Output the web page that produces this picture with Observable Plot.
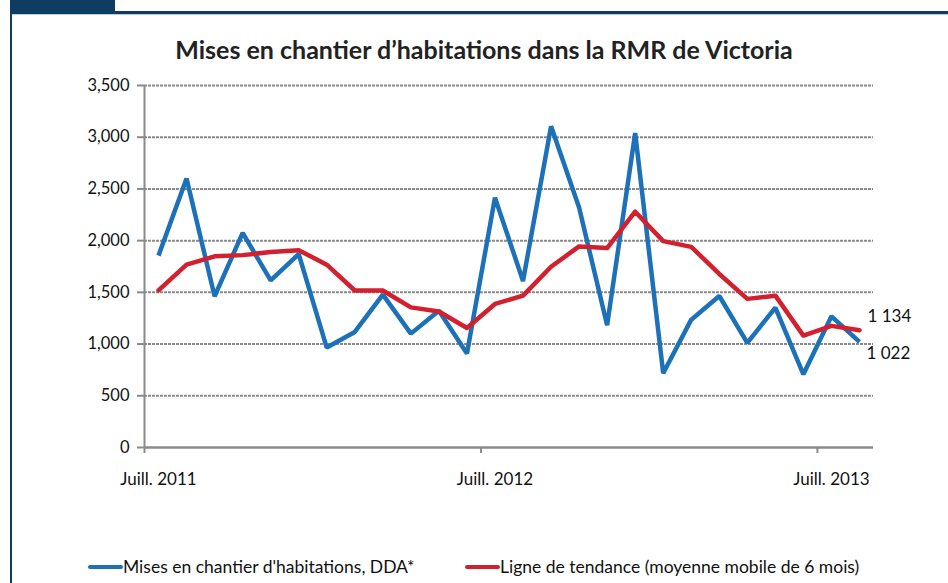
<!DOCTYPE html>
<html>
<head>
<meta charset="utf-8">
<script src="https://cdn.jsdelivr.net/npm/d3@7"></script>
<script src="https://cdn.jsdelivr.net/npm/@observablehq/plot@0.6"></script>
<style>
  html, body { margin: 0; padding: 0; background: #fff; }
  body { width: 948px; height: 583px; overflow: hidden; font-family: Lato, "Open Sans", sans-serif; }
  #wrap { position: relative; width: 948px; height: 583px; }
  #tab { position: absolute; left: 10px; top: 0; width: 105px; height: 12px; background: #0f3d62; }
  #topline { position: absolute; left: 10px; top: 11px; width: 938px; height: 3px; background: #0f3d62; border-bottom: 1px solid #b8cfe0; }
  #leftline { position: absolute; left: 10px; top: 0; width: 2px; height: 583px; background: #0f3d62; }
  #title { position: absolute; top: 34px; left: 0; width: 968px; text-align: center; font-weight: 700; font-size: 25px; color: #222; }
  #chart { position: absolute; left: 0; top: 0; }
  #legend { position: absolute; top: 556px; left: 0; width: 948px; font-size: 17.5px; color: #111; }
  .item { position: absolute; display: flex; align-items: center; white-space: nowrap; }
  .sw { display: inline-block; width: 35px; height: 4px; border-radius: 2px; margin-right: 0px; }
</style>
</head>
<body>
<div id="wrap">
  <div id="tab"></div>
  <div id="topline"></div>
  <div id="leftline"></div>
  <div id="title">Mises en chantier d’habitations dans la RMR de Victoria</div>
  <div id="chart"></div>
  <div id="legend"></div>
</div>
<script>
// ---- Data ----
const mois = ["2011-07","2011-08","2011-09","2011-10","2011-11","2011-12",
  "2012-01","2012-02","2012-03","2012-04","2012-05","2012-06",
  "2012-07","2012-08","2012-09","2012-10","2012-11","2012-12",
  "2013-01","2013-02","2013-03","2013-04","2013-05","2013-06",
  "2013-07","2013-08"];
const misesEnChantier = [1855, 2600, 1462, 2075, 1616, 1870, 966, 1117, 1478, 1101, 1322, 908,
  2415, 1610, 3105, 2320, 1182, 3040, 718, 1236, 1465, 1011, 1352, 708, 1268, 1022];
const tendance = [1520, 1768, 1848, 1860, 1890, 1908, 1768, 1518, 1518, 1355, 1315, 1155,
  1388, 1468, 1748, 1944, 1928, 2280, 1995, 1940, 1678, 1437, 1468, 1082, 1176, 1134];
const etiquettesX = ["Juill. 2011", "Juill. 2012", "Juill. 2013"];
const positionsEtiquettes = [0, 12, 24];
const ticksY = [0, 500, 1000, 1500, 2000, 2500, 3000, 3500];
const series = ["Mises en chantier d'habitations, DDA*", "Ligne de tendance (moyenne mobile de 6 mois)"];
const couleurs = ["#1c71b8", "#d2202f"];

// ---- Build ----
const rows = mois.map((m, i) => ({i, m, a: misesEnChantier[i], t: tendance[i]}));
const n = mois.length;
const bornes = positionsEtiquettes.map(p => p - 0.5);
const last = rows[n - 1];
const frFmt = d3.formatLocale({decimal: ",", thousands: "\u00a0", grouping: [3]}).format(",");
const gris = "#8a8a8a";

const plot = Plot.plot({
  width: 948,
  height: 500,
  marginLeft: 144,
  marginRight: 75,
  marginTop: 85,
  marginBottom: 53,
  style: {fontFamily: "Lato, 'Open Sans', sans-serif", fontSize: "16px", color: "#111", background: "transparent", overflow: "visible"},
  x: {domain: [-0.5, n - 0.5], axis: null},
  y: {domain: [0, 3500], axis: null},
  marks: [
    Plot.gridY(ticksY.filter(d => d > 0), {stroke: gris, strokeOpacity: 1, strokeWidth: 2, strokeDasharray: "3,1"}),
    Plot.axisY({ticks: ticksY, tickSize: 7, tickPadding: 8, tickFormat: d3.format(","), stroke: gris, strokeWidth: 2, fontSize: 16.5, label: null}),
    Plot.ruleX([-0.5], {y1: 0, y2: 3500, stroke: gris, strokeWidth: 2}),
    Plot.ruleY([0], {stroke: gris, strokeWidth: 2.5}),
    Plot.axisX({ticks: bornes, tickSize: 6, tickFormat: () => "", stroke: gris, strokeWidth: 2, label: null}),
    Plot.axisX({ticks: positionsEtiquettes, tickSize: 0, tickPadding: 25, tickFormat: (d) => etiquettesX[positionsEtiquettes.indexOf(d)], fontSize: 17, label: null}),
    Plot.lineY(rows, {x: "i", y: "a", stroke: couleurs[0], strokeWidth: 4.5, strokeLinejoin: "miter", strokeLinecap: "butt"}),
    Plot.lineY(rows, {x: "i", y: "t", stroke: couleurs[1], strokeWidth: 4.5, strokeLinejoin: "round"}),
    Plot.text([last], {x: "i", y: "t", text: d => frFmt(d.t), dx: 8, dy: -14, textAnchor: "start", fontSize: 17, fill: "#111"}),
    Plot.text([last], {x: "i", y: "a", text: d => frFmt(d.a), dx: 7, dy: 12, textAnchor: "start", fontSize: 17, fill: "#111"})
  ]
});
document.getElementById("chart").appendChild(plot);

// ---- Legend ----
const legend = document.getElementById("legend");
const lefts = [88, 465];
series.forEach((s, k) => {
  const it = document.createElement("div");
  it.className = "item";
  it.style.left = lefts[k] + "px";
  it.innerHTML = `<span class="sw" style="background:${couleurs[k]}"></span><span>${s}</span>`;
  legend.appendChild(it);
});
</script>
</body>
</html>
